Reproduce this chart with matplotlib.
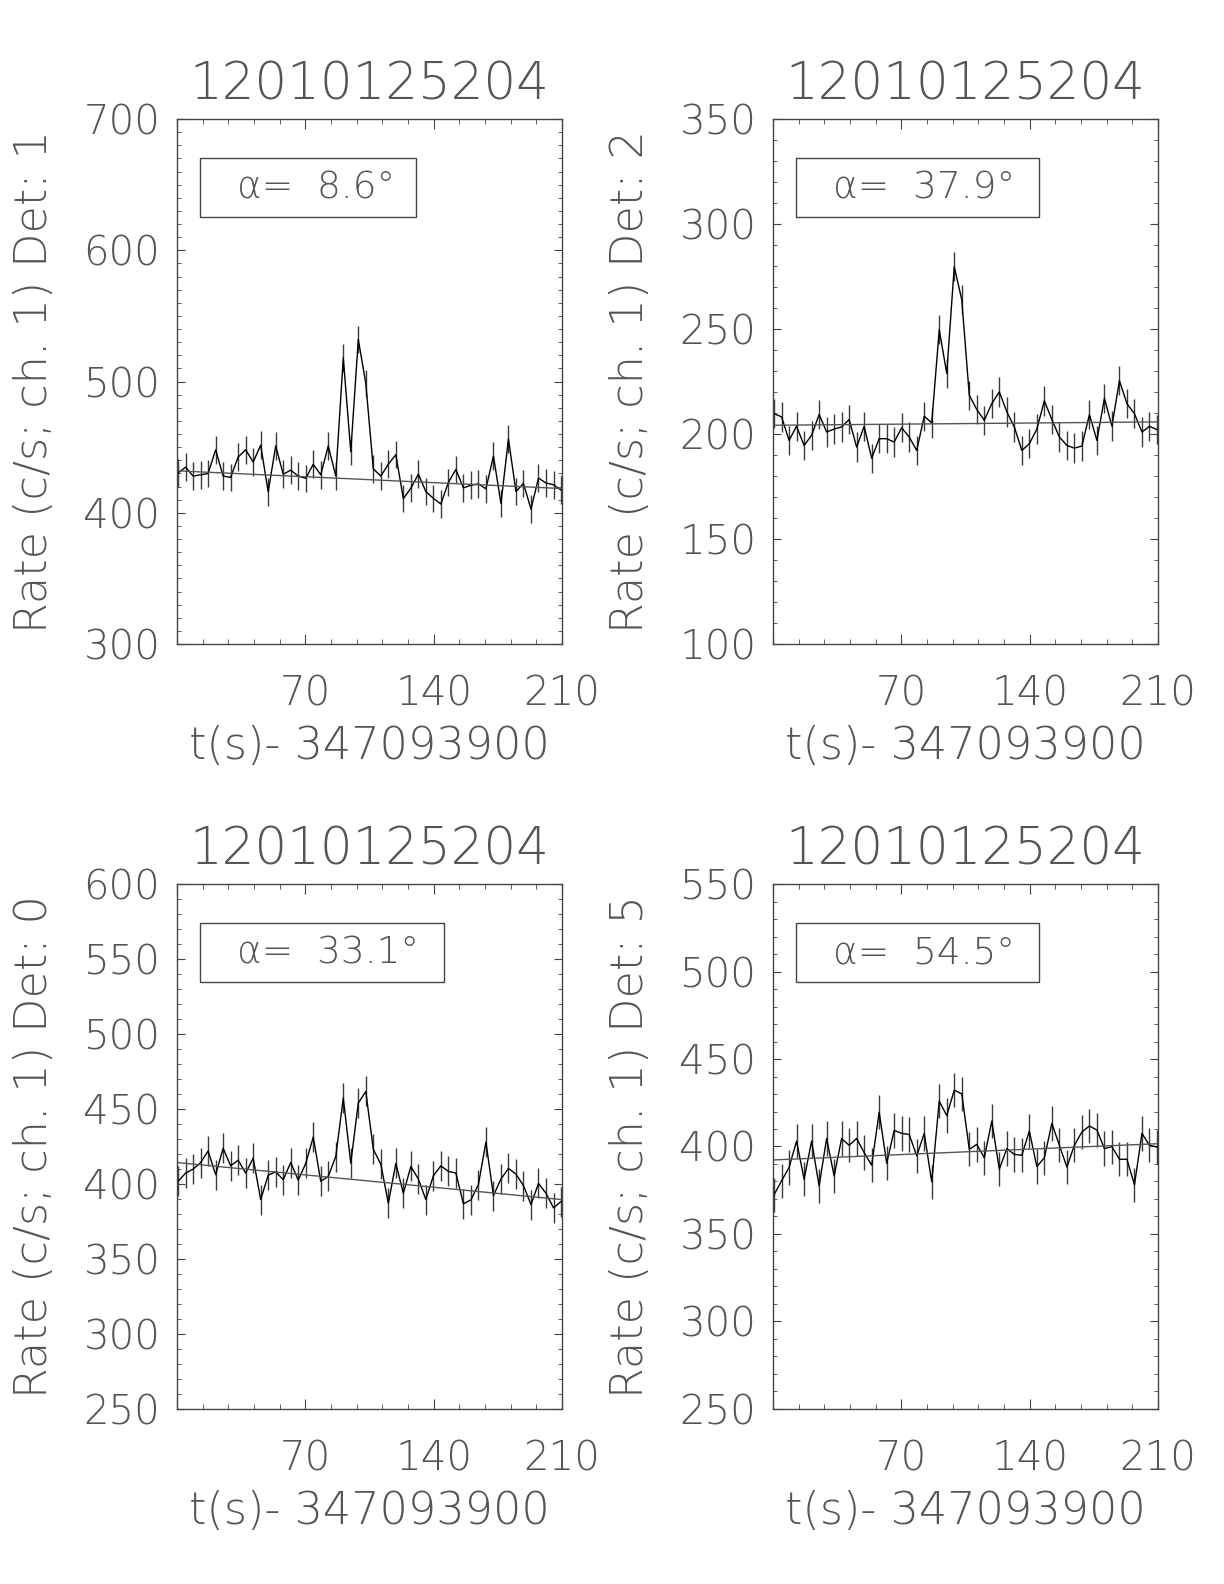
import matplotlib
matplotlib.use("Agg")
import matplotlib.pyplot as plt
from matplotlib.patches import Rectangle
from matplotlib.ticker import MultipleLocator
import numpy as np

# light-bin grid (about 4.1 s bins, 52 bins across the window)
time = np.arange(52) * 4.096 + 0.6

rate_det1 = [430.4, 434.8, 428, 429, 430, 448, 428, 427, 442.5, 448,
             438.7, 451.5, 416, 451, 429.4, 432.5, 428, 426.3, 437, 429,
             451, 428, 518, 446.6, 532, 498.7, 433.5, 428, 437, 444.3,
             410.8, 418.8, 429.4, 416.2, 411, 406.7, 423.2, 433, 419, 421,
             422, 418.3, 443.3, 407.2, 456.2, 416.2, 422.4, 402.8, 426.5, 422.7,
             421.4, 417.3]
rate_det2 = [209.7, 208.2, 197, 203.7, 194.6, 199.4, 209.3, 201, 202.4, 203.4,
             206.9, 193.8, 203.7, 188.5, 197.8, 197.8, 196.2, 203, 198.6, 192.2,
             208.5, 205.3, 249.7, 228.9, 279.7, 264, 218.5, 211.7, 206.6, 214.5,
             220.1, 210.6, 203.4, 192.2, 195.4, 202.4, 215.8, 206.9, 198.6, 194.6,
             193.3, 194.3, 209.3, 197, 217, 203.8, 225.4, 214.5, 209.7, 201,
             203.7, 202.1]
rate_det0 = [401.8, 407.3, 409.9, 414.3, 422, 406.2, 423.8, 412.1, 415.9, 407.3,
             417.2, 389.6, 405.9, 408.1, 402.9, 414.3, 402.6, 413.7, 431.3, 401.8,
             405.1, 418.3, 457.3, 413.9, 454, 461.7, 423.1, 413.2, 387.2, 413.7,
             393.8, 411.7, 403.3, 389.6, 405.5, 412.1, 408.4, 407.3, 386.8, 389.4,
             399.6, 428, 392.3, 403.3, 410.4, 406.6, 398.9, 386.3, 400.4, 393.8,
             384.1, 388.3]
rate_det5 = [372.4, 380.4, 388, 403.1, 381.3, 403.1, 377.5, 404.6, 383.2, 404.5,
             400.7, 404.6, 396.5, 389.3, 419.6, 390.4, 409.2, 407.5, 406.9, 394.6,
             407.5, 379.8, 425.9, 417.7, 432.2, 430.1, 398.4, 401.2, 393.6, 414.5,
             387, 398.8, 395.5, 395, 408.8, 388.5, 393.6, 413.2, 400.7, 388.3,
             400.7, 408.3, 411.7, 409.4, 398.8, 399.9, 392.7, 392.7, 378.1, 407.5,
             400.7, 399.7]

errors = [10.5, 7.0, 10.0, 9.8]
# background fit value at t=0 and t=210
fit_ends = [(432, 418.5), (204.2, 205.8), (414.3, 389.6), (392.3, 401.6)]

dets = ["1", "2", "0", "5"]
alphas = ["8.6", "37.9", "33.1", "54.5"]
ylims = [(300, 700), (100, 350), (250, 600), (250, 550)]
ymajor = [100, 50, 50, 50]
rates = [rate_det1, rate_det2, rate_det0, rate_det5]
box_right = [0.62, 0.692, 0.694, 0.692]

title = "12010125204"
xlab = "t(s)- 347093900"

txt = "#555555"
plt.rcParams['font.family'] = ['DejaVu Sans']
plt.rcParams['font.weight'] = 'light'
plt.rcParams['axes.titleweight'] = 'light'
plt.rcParams['axes.labelweight'] = 'light'

fig = plt.figure(figsize=(12.24, 15.84), dpi=100)

positions = [(0.1446, 0.5934), (0.6315, 0.5934), (0.1446, 0.1105), (0.6315, 0.1105)]
w, h = 0.3145, 0.3314

for k in range(4):
    ax = fig.add_axes([positions[k][0], positions[k][1], w, h])
    ax.errorbar(time, rates[k], yerr=errors[k], fmt='none', ecolor='#3a3a3a',
                elinewidth=1.0, capsize=0)
    ax.plot(time, rates[k], color='black', lw=1.0)
    ax.plot([0, 210], fit_ends[k], color='#555555', lw=1.0)
    ax.set_xlim(0, 210)
    ax.set_ylim(*ylims[k])
    ax.set_xticks([0, 70, 140, 210])
    ax.set_xticklabels(['', '70', '140', '210'])
    ax.xaxis.set_minor_locator(MultipleLocator(14))
    ax.yaxis.set_major_locator(MultipleLocator(ymajor[k]))
    ax.yaxis.set_minor_locator(MultipleLocator(10))
    ax.tick_params(axis='both', which='both', direction='in', top=True, right=True,
                   colors='#444444', labelcolor=txt, labelsize=29)
    ax.tick_params(axis='x', which='major', length=7.5, pad=22)
    ax.tick_params(axis='x', which='minor', length=3.7)
    ax.tick_params(axis='y', which='major', length=5.5, pad=12)
    ax.tick_params(axis='y', which='minor', length=2.8)
    for s in ax.spines.values():
        s.set_color('#444444')
        s.set_linewidth(1.0)
    ax.set_title(title, fontsize=37, color=txt, pad=14, fontweight='light')
    ax.set_xlabel(xlab, fontsize=32, color=txt, labelpad=8, fontweight='light')
    ax.set_ylabel("Rate (c/s; ch. 1) Det: " + dets[k], fontsize=32, color=txt,
                  labelpad=20, fontweight='light')
    ax.add_patch(Rectangle((0.06, 0.813), box_right[k] - 0.06, 0.112, transform=ax.transAxes,
                           fill=False, edgecolor='#444444', lw=1.0))
    ax.text(0.155, 0.869, "α=  " + alphas[k] + "°", transform=ax.transAxes,
            fontsize=27, color=txt, ha='left', va='center', fontweight='light')

fig.savefig("out.png", dpi=100)
